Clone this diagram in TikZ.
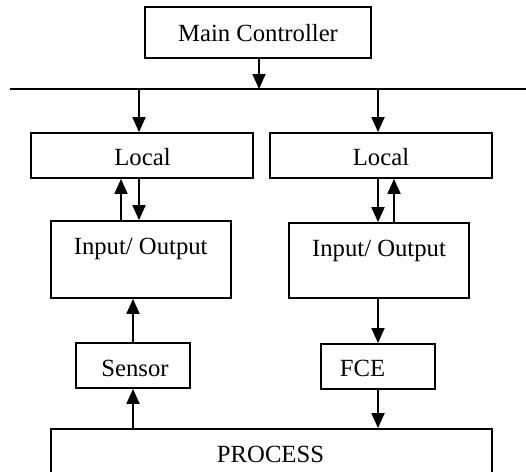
\documentclass[tikz,border=0pt]{standalone}
\usepackage{fontspec}
\setmainfont{Liberation Serif}
\usetikzlibrary{arrows.meta}
\begin{document}
\begin{tikzpicture}[x=1pt,y=-1pt,
  box/.style={draw, line width=1.8pt, inner sep=0pt, minimum width=#1},
  lbl/.style={anchor=base, inner sep=0pt, font=\fontsize{24.7}{30}\selectfont},
  arr/.style={line width=1.8pt, -{Triangle[width=13pt,length=15pt]}},
  wire/.style={line width=1.8pt}]
\clip (0,0) rectangle (526,471);
\useasboundingbox (0,0) rectangle (526,471);

% blocks
\node[box=226, minimum height=51] (mc)   at (258,32.5) {};
\node[box=222, minimum height=45] (loc1) at (142,155.5) {};
\node[box=222, minimum height=45] (loc2) at (381,155.5) {};
\node[box=180, minimum height=77] (io1)  at (141,259.5) {};
\node[box=180, minimum height=75] (io2)  at (379,260.5) {};
\node[box=114, minimum height=45] (sen)  at (133,365.5) {};
\node[box=114, minimum height=45] (fce)  at (378,366.5) {};
\node[box=441, minimum height=50] (proc) at (271.5,454) {};

% labels
\node[lbl] at (258,41.7) {Main Controller};
\node[lbl] at (142.5,165) {Local};
\node[lbl] at (381,165) {Local};
\node[lbl] at (140.7,254) {Input/ Output};
\node[lbl] at (379,256) {Input/ Output};
\node[lbl] at (135,376) {Sensor};
\node[lbl] at (362.5,376) {FCE};
\node[lbl] at (270.5,462) {PROCESS};

% bus
\coordinate (busL) at (10,89);
\coordinate (busR) at (527,89);
\draw[wire] (busL) -- (busR);
\coordinate (t0) at (259,89);
\coordinate (t1) at (139,89);
\coordinate (t2) at (378,89);

% connectors
\draw[arr] (mc.south -| t0) -- (t0);
\draw[arr] (t1) -- (t1 |- loc1.north);
\draw[arr] (t2) -- (t2 |- loc2.north);

\coordinate (u1) at (121,0);
\coordinate (d1) at (139,0);
\draw[arr] (u1 |- io1.north) -- (u1 |- loc1.south);
\draw[arr] (d1 |- loc1.south) -- (d1 |- io1.north);

\coordinate (d2) at (378,0);
\coordinate (u2) at (394,0);
\draw[arr] (d2 |- loc2.south) -- (d2 |- io2.north);
\draw[arr] (u2 |- io2.north) -- (u2 |- loc2.south);

\draw[arr] (sen.north) -- (sen.north |- io1.south);
\draw[arr] (proc.north -| sen.south) -- (sen.south);
\draw[arr] (io2.south -| fce.north) -- (fce.north);
\draw[arr] (fce.south) -- (fce.south |- proc.north);
\end{tikzpicture}
\end{document}
